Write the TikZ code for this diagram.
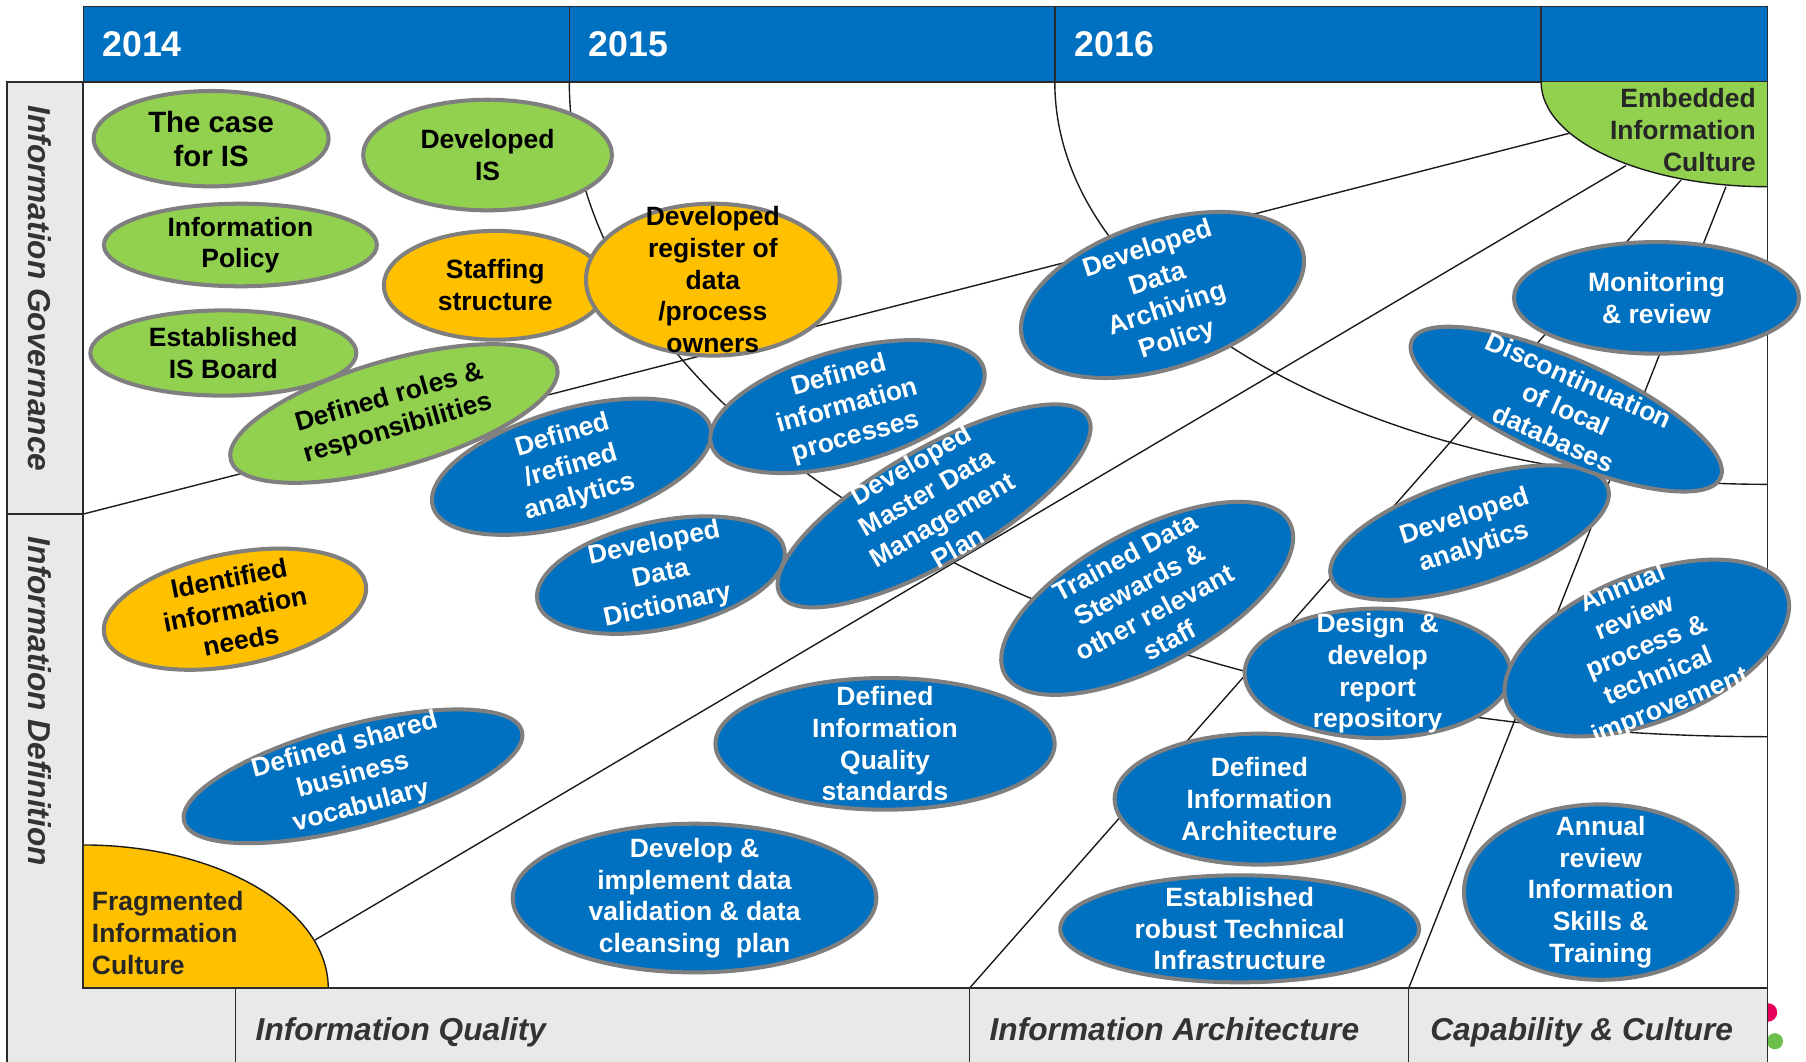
\documentclass[tikz,border=0pt]{standalone}
\usepackage{fontspec}
\setmainfont{Liberation Sans}
\usetikzlibrary{shapes.geometric}
\definecolor{iblue}{HTML}{0070C0}
\definecolor{igreen}{HTML}{92D050}
\definecolor{iorange}{HTML}{FFC000}
\definecolor{ovgray}{HTML}{7F7F7F}
\definecolor{bandgray}{HTML}{E9E9E9}
\definecolor{lineC}{HTML}{1A1A1A}
\definecolor{frmC}{HTML}{2B2B2B}
\definecolor{labC}{HTML}{333333}
\definecolor{txtdark}{HTML}{262626}
\definecolor{dotpink}{HTML}{E6005C}
\definecolor{dotgreen}{HTML}{6CBF4A}
\tikzset{
 ov/.style={ellipse, draw=ovgray, line width=3.5pt, inner sep=0pt, outer sep=0pt},
 gE/.style={ov, fill=igreen},
 oE/.style={ov, fill=iorange},
 bE/.style={ov, fill=iblue},
 tk/.style={font=\bfseries\fontsize{23}{27.5}\selectfont, align=center, inner sep=0pt, text=black},
 tw/.style={tk, text=white},
 conn/.style={draw=lineC, line width=1.2pt},
 frm/.style={draw=frmC, line width=1.8pt},
 thinfrm/.style={draw=frmC, line width=1.2pt},
 axlab/.style={font=\bfseries\itshape\fontsize{27.5}{33}\selectfont, text=labC, inner sep=0pt},
 yr/.style={font=\bfseries\fontsize{31}{37}\selectfont, text=white, inner sep=0pt, anchor=base west},
 cult/.style={font=\bfseries\fontsize{23}{28}\selectfont, text=txtdark, inner sep=0pt},
}
% name, centre, width, height, rotation, shape style, text style, text
\newcommand\EL[8]{%
 \node[#6, minimum width=#3pt, minimum height=#4pt, rotate=#5] (#1) at (#2) {};
 \node[#7, rotate=#5] (#1t) at (#1.center) {#8};
}
\begin{document}
\begin{tikzpicture}[x=1pt,y=-1pt]
\useasboundingbox (0,0) rectangle (1568,922);
\fill[white] (0,0) rectangle (1568,922);
% small dots at the right edge
\fill[dotpink] (1535,879) circle[radius=8pt];
\fill[dotgreen] (1541,904) circle[radius=7pt];
% left column and bottom band
\fill[bandgray] (6,71.2) rectangle (72.3,922);
\fill[bandgray] (6,858.1) rectangle (1534.7,922);
% header
\fill[iblue] (72.3,5.4) rectangle (1534.7,71.2);
\draw[thinfrm] (72.3,5.4) rectangle (1534.7,71.2);
\draw[thinfrm] (494.3,5.4) -- (494.3,71.2);
\draw[thinfrm] (915.8,5.4) -- (915.8,71.2);
\draw[thinfrm] (1338,5.4) -- (1338,71.2);
\node[yr] (y14) at (88.7,49.3) {2014};
\node[yr] (y15) at (510.9,49.3) {2015};
\node[yr] (y16) at (932.9,49.3) {2016};
% culture regions
\fill[igreen] (1338,71.2) arc[start angle=180, end angle=90, x radius=196.7, y radius=90.9] -- (1534.7,71.2) -- cycle;
\draw[conn] (1338,71.2) arc[start angle=180, end angle=90, x radius=196.7, y radius=90.9];
\fill[iorange] (72.3,733.6) arc[start angle=270, end angle=360, x radius=212.7, y radius=124.5] -- (72.3,858.1) -- cycle;
\draw[conn] (72.3,733.6) arc[start angle=270, end angle=360, x radius=212.7, y radius=124.5];
% connectors
\coordinate (A1) at (72.3,446.3);  \coordinate (A2) at (1362.5,115.7);
\coordinate (B1) at (273.5,816.1); \coordinate (B2) at (1411.7,143.8);
\coordinate (C1) at (1459.5,156.3); \coordinate (C2) at (841.6,858.1);
\coordinate (D1) at (1498.5,162.1); \coordinate (D2) at (1223,858.1);
\coordinate (R1) at (494.3,71.2);  \coordinate (R2) at (915.8,71.2);
\draw[conn] (A1) -- (A2);
\draw[conn] (B1) -- (B2);
\draw[conn] (C1) -- (C2);
\draw[conn] (D1) -- (D2);
\draw[conn] (R1) arc[start angle=180, end angle=90, x radius=1040.4, y radius=568.4];
\draw[conn] (R2) arc[start angle=180, end angle=90, x radius=618.9, y radius=349.3];
% frames
\draw[frm] (72.3,71.2) -- (72.3,858.1) -- (1534.7,858.1);
\draw[thinfrm] (1534.7,5.4) -- (1534.7,922);
\draw[thinfrm] (6,922) -- (6,71.2) -- (72.3,71.2);
\draw[thinfrm] (6,446.3) -- (72.3,446.3);
\draw[thinfrm] (204.4,858.1) -- (204.4,922);
\draw[thinfrm] (841.6,858.1) -- (841.6,922);
\draw[thinfrm] (1223,858.1) -- (1223,922);
% ellipses
\EL{caseIS}{183.3,120.4}{204}{82.8}{0}{gE}{tk, font=\bfseries\fontsize{25.5}{29.5}\selectfont}{The case\\for IS}
\EL{devIS}{423.3,134.6}{216}{96}{0}{gE}{tk}{Developed\\IS}
\EL{infPol}{208.7,212.7}{237}{71.7}{0}{gE}{tk}{Information\\Policy}
\EL{isBoard}{193.9,306.5}{231}{74}{0}{gE}{tk}{Established\\IS Board}
\EL{roles}{342,359}{294.5}{92.5}{16}{gE}{tk}{Defined roles \&\\responsibilities}
\EL{staff}{430,247.7}{193.5}{94.5}{0}{oE}{tk}{Staffing\\structure}
\EL{register}{618.9,242.8}{220.3}{131.9}{0}{oE}{tk}{Developed\\register of\\data\\/process\\owners}
\EL{needs}{204,528.9}{231.3}{97.3}{11}{oE}{tk}{Identified\\information\\needs}
\EL{refAn}{496.3,405.2}{250.7}{99.9}{16}{bE}{tw}{Defined\\/refined\\analytics}
\EL{infProc}{735.8,353}{245.7}{98.5}{15.5}{bE}{tw}{Defined\\information\\processes}
\EL{dict}{573.8,499.3}{219.1}{93.3}{12}{bE}{tw}{Developed\\Data\\Dictionary}
\EL{mdm}{811,439.2}{308.5}{98.5}{30}{bE}{tw}{Developed\\Master Data\\Management\\Plan}
\EL{archive}{1009.3,256.1}{255.1}{126.9}{18}{bE}{tw}{Developed\\Data\\Archiving\\Policy}
\EL{monitor}{1438.2,258.6}{247.5}{96.9}{0}{bE}{tw}{Monitoring\\\& review}
\EL{devAn}{1275.9,462.4}{252.7}{91.3}{18}{bE}{tw}{Developed\\analytics}
\EL{discont}{1359.8,355.2}{293.3}{86.5}{-24}{bE}{tw}{Discontinuation\\of local\\databases}
\EL{stewards}{996,519.5}{280.1}{117.7}{28}{bE}{tw}{Trained Data\\Stewards \&\\other relevant\\staff}
\EL{repo}{1196.1,584.6}{230.9}{112.3}{0}{bE}{tw}{Design\ \ \&\\develop\\report\\repository}
\EL{annProc}{1429.8,562.6}{261.3}{127.5}{22}{bE}{tw}{Annual\\review\\process \&\\technical\\improvement}
\EL{iqStd}{768.4,645.8}{294.5}{114.3}{0}{bE}{tw}{Defined\\Information\\Quality\\standards}
\EL{vocab}{306.5,674}{303.7}{88.5}{15}{bE}{tw}{Defined shared\\business\\vocabulary}
\EL{valid}{603,779.7}{315.7}{129.1}{0}{bE}{tw}{Develop \&\\implement data\\validation \& data\\cleansing\ \ plan}
\EL{infArch}{1093.4,693.8}{251.3}{113.7}{0}{bE}{tw}{Defined\\Information\\Architecture}
\EL{techInf}{1076.3,806.4}{311.5}{92.9}{0}{bE}{tw}{Established\\robust Technical\\Infrastructure}
\EL{skills}{1389.7,774.5}{237.3}{152.3}{0}{bE}{tw}{Annual\\review\\Information\\Skills \&\\Training}
% culture texts
\node[cult, align=right, anchor=east] (embT) at (1524.6,112.7) {Embedded\\Information\\Culture};
\node[cult, align=left, anchor=west] (fragT) at (79.6,810.2) {Fragmented\\Information\\Culture};
% axis labels
\node[axlab, rotate=-90, anchor=base] (govL) at (25,250.4) {Information Governance};
\node[axlab, rotate=-90, anchor=base] (defL) at (25,609) {Information Definition};
\node[axlab, anchor=base west] (qualL) at (221.8,903.1) {Information Quality};
\node[axlab, anchor=base west] (archL) at (859,903.1) {Information Architecture};
\node[axlab, anchor=base west] (capL) at (1241.6,903.1) {Capability \& Culture};
\end{tikzpicture}
\end{document}
